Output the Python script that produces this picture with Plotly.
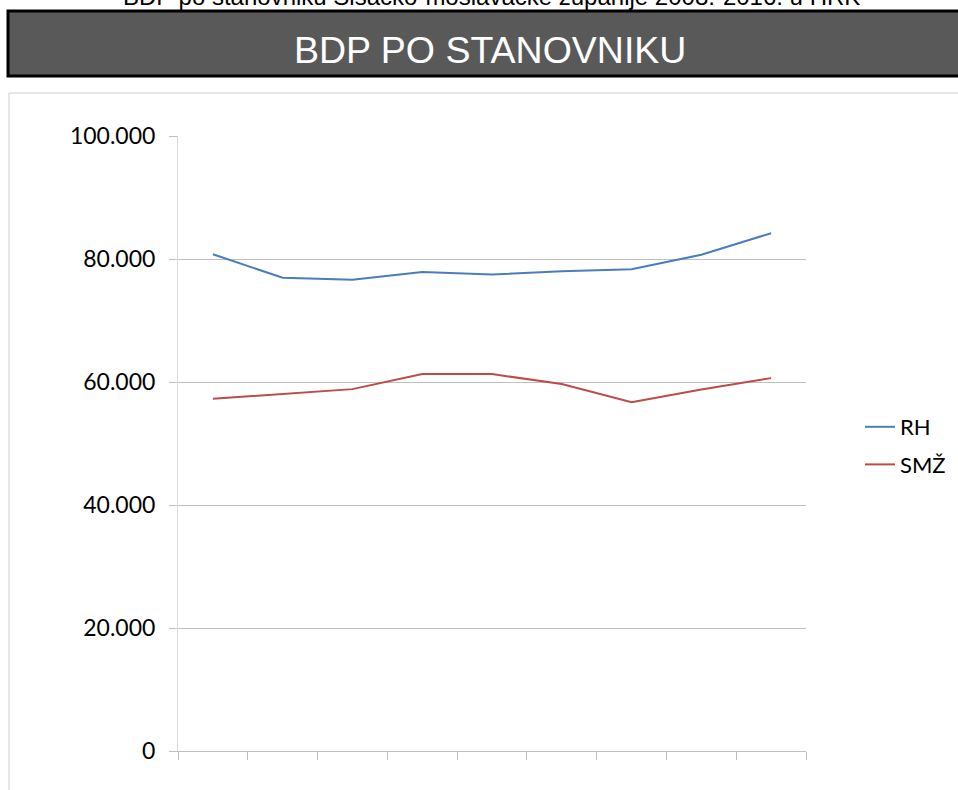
import plotly.graph_objects as go

years = ["2008", "2009", "2010", "2011", "2012", "2013", "2014", "2015", "2016"]
rh = [80780, 76950, 76620, 77880, 77480, 78010, 78340, 80700, 84200]
smz = [57280, 58090, 58840, 61290, 61290, 59660, 56730, 58790, 60630]
series_names = ["RH", "SMŽ"]
y_ticks = [0, 20000, 40000, 60000, 80000, 100000]

W, H = 958, 790
L, R, T, B = 178, 152, 136, 39
PW, PH = W - L - R, H - T - B

def px(xp):
    return (xp - L) / PW

def py(yp):
    return (H - B - yp) / PH

fig = go.Figure()
fig.add_trace(go.Scatter(x=years, y=rh, name=series_names[0], mode="lines",
                         line=dict(color="#4A7EBB", width=2), legendgroup="a"))
fig.add_trace(go.Scatter(x=years, y=smz, name=series_names[1], mode="lines",
                         line=dict(color="#BE4B48", width=2), legendgroup="b"))

fig.update_layout(
    width=W, height=H,
    margin=dict(l=L, r=R, t=T, b=B, pad=0, autoexpand=False),
    paper_bgcolor="white", plot_bgcolor="white",
    separators=",.",
    showlegend=True,
    legend=dict(xref="container", yref="container",
                x=860 / W, xanchor="left", y=(H - 446) / H, yanchor="middle",
                font=dict(family="Lato", size=22, color="black"),
                bgcolor="rgba(0,0,0,0)", tracegroupgap=6,
                traceorder="grouped"),
    font=dict(family="Lato", color="black"),
)
fig.update_xaxes(type="category", range=[-0.5, 8.5], showticklabels=False,
                 tickson="boundaries", ticks="outside", ticklen=8,
                 tickcolor="#BFBFBF", showgrid=False, showline=True,
                 linecolor="#BFBFBF", linewidth=1, zeroline=False,
                 fixedrange=True)
fig.update_yaxes(range=[0, 100000], tickvals=y_ticks, tickformat=",d",
                 ticks="outside", ticklen=8, tickcolor="#BFBFBF",
                 showgrid=True, gridcolor="#BFBFBF", gridwidth=1,
                 showline=True, linecolor="#D9D9D9", linewidth=1,
                 zeroline=False, tickfont=dict(family="Lato", size=23, color="black"),
                 ticklabelstandoff=9, fixedrange=True)

# chart frame
fig.add_shape(type="rect", xref="paper", yref="paper",
              x0=px(9), x1=px(990), y0=py(93), y1=py(820),
              line=dict(color="#D0D0D0", width=1), fillcolor="rgba(0,0,0,0)",
              layer="below")
# banner
fig.add_shape(type="rect", xref="paper", yref="paper",
              x0=px(8), x1=px(1000), y0=py(11), y1=py(76),
              line=dict(color="black", width=3), fillcolor="#595959",
              layer="above")
fig.add_annotation(text="BDP PO STANOVNIKU", xref="paper", yref="paper",
                   x=px(490), y=py(50), xanchor="center", yanchor="middle",
                   showarrow=False,
                   font=dict(family="Liberation Sans", size=37.5, color="white"))
fig.add_annotation(text="BDP po stanovniku Sisačko-moslavačke županije 2008.-2016. u HRK",
                   xref="paper", yref="paper",
                   x=px(491), y=py(-3), xanchor="center", yanchor="middle",
                   showarrow=False,
                   font=dict(family="Liberation Sans", size=24, color="black"))

fig.write_html("out.html", config={"displayModeBar": False},
               post_script="document.body.style.margin='0px';document.body.style.overflow='hidden';")
